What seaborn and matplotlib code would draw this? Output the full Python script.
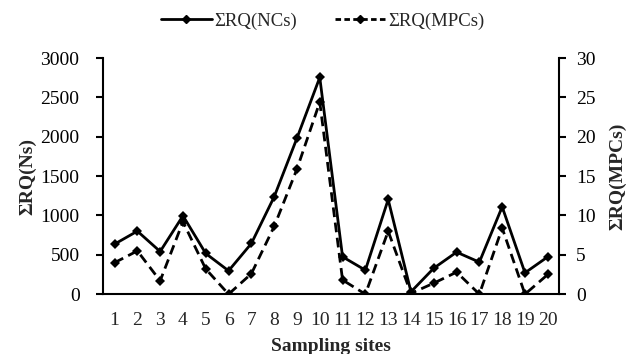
import pandas as pd
import matplotlib
matplotlib.use("Agg")
import matplotlib.pyplot as plt
import seaborn as sns
from matplotlib.lines import Line2D

# Data
sites = list(range(1, 21))
rq_ncs = [636, 801, 542, 996, 517, 297, 644, 1237, 1983, 2754,
          475, 305, 1203, 30, 330, 534, 407, 1110, 271, 475]
rq_mpcs = [4.0, 5.5, 1.7, 9.2, 3.2, 0.0, 2.6, 8.6, 15.9, 24.4,
           1.8, 0.0, 8.0, 0.1, 1.4, 2.8, 0.0, 8.4, 0.0, 2.5]


def main():
    df = pd.DataFrame({"Site": sites, "NCs": rq_ncs, "MPCs": rq_mpcs})

    sns.set_theme(style="white")
    plt.rcParams.update({
        "font.family": ["Liberation Serif", "DejaVu Serif"],
        "font.size": 14,
        "axes.linewidth": 1.5,
    })

    fig = plt.figure(figsize=(6.29, 3.54), dpi=100)
    ax = fig.add_axes([0.164, 0.169, 0.725, 0.667])
    ax2 = ax.twinx()

    sns.lineplot(data=df, x="Site", y="NCs", ax=ax, color="black",
                 linewidth=2, marker="D", markersize=5.5, markeredgewidth=0)
    sns.lineplot(data=df, x="Site", y="MPCs", ax=ax2, color="black",
                 linewidth=2, linestyle=(0, (3.5, 2)), marker="D",
                 markersize=5.5, markeredgewidth=0)

    ax.set_xlim(0.5, 20.5)
    ax.set_ylim(0, 3000)
    ax2.set_ylim(0, 30)
    ax.set_yticks(range(0, 3001, 500))
    ax2.set_yticks(range(0, 31, 5))

    # category ticks between sites, labels centred
    ax.set_xticks(sites)
    ax.set_xticklabels([str(s) for s in sites])
    ax.set_xticks([s + 0.5 for s in range(0, 21)], minor=True)
    ax.tick_params(axis="x", which="major", length=0, pad=13, labelsize=14)
    ax.tick_params(axis="x", which="minor", length=6, width=1.5,
                   direction="inout", colors="black")
    ax.tick_params(axis="y", length=5, width=1.5, direction="out",
                   labelsize=14, colors="black", pad=12)
    ax2.tick_params(axis="y", length=5, width=1.5, direction="out",
                    labelsize=14, colors="black", pad=7)

    for a in (ax, ax2):
        a.spines["top"].set_visible(False)
        for s in a.spines.values():
            s.set_color("black")
    ax.spines["right"].set_visible(False)
    ax2.spines["left"].set_visible(False)
    ax2.spines["bottom"].set_visible(False)

    ax.set_xlabel("Sampling sites", fontweight="bold", fontsize=14, labelpad=6)
    ax.set_ylabel("ΣRQ(Ns)", fontweight="bold", fontsize=14, labelpad=3)
    ax2.set_ylabel("ΣRQ(MPCs)", fontweight="bold", fontsize=14, labelpad=10)

    handles = [
        Line2D([], [], color="black", linewidth=2, marker="D", markersize=4.5),
        Line2D([], [], color="black", linewidth=2, linestyle=(0, (2, 1.2)),
               marker="D", markersize=4.5),
    ]
    fig.legend(handles, ["ΣRQ(NCs)", "ΣRQ(MPCs)"], loc="center",
               bbox_to_anchor=(0.513, 0.94), ncol=2, frameon=False,
               fontsize=13.5, handlelength=2.7, columnspacing=2.0,
               handletextpad=0.15)

    fig.savefig("out.png", dpi=100)


if __name__ == "__main__":
    main()
